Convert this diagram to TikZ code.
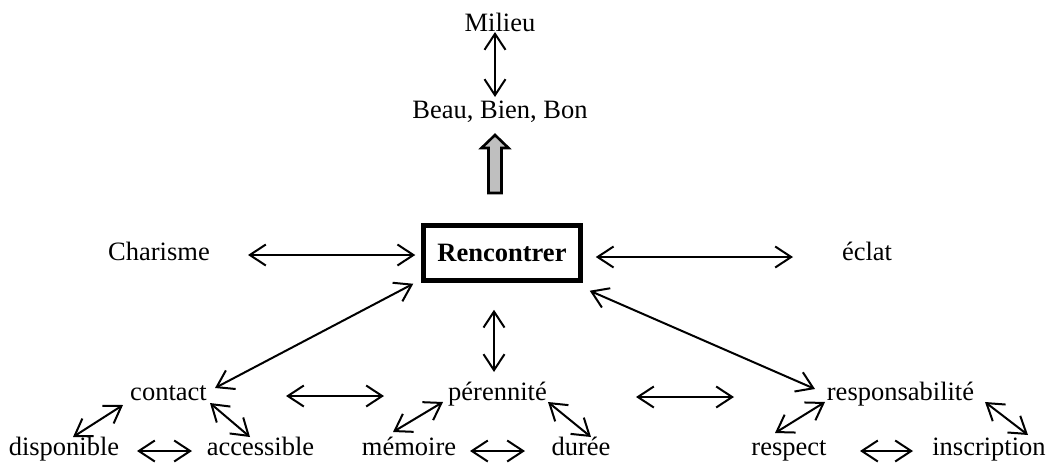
\documentclass[tikz,border=0pt]{standalone}
\usepackage{fontspec}
\setmainfont{Liberation Serif}
\usetikzlibrary{arrows.meta}
\begin{document}
\begin{tikzpicture}[x=1pt,y=-1pt,
  lbl/.style={inner sep=0pt,anchor=base,font=\fontsize{26.5}{30}\selectfont},
  link/.style={line width=2pt,{Straight Barb[length=16pt,width=21pt]}-{Straight Barb[length=16pt,width=21pt]}},
  hub/.style={draw,line width=5.5pt,minimum width=157pt,minimum height=55pt,inner sep=0pt,
    font=\fontsize{26.5}{30}\selectfont\bfseries},
  blockarrow/.style={draw,line width=2.6pt,fill=black!25,line join=miter}]
\useasboundingbox (0,0) rectangle (1051,463);

% words
\node[lbl] (milieu) at (500,31) {Milieu};
\node[lbl] (beau) at (500,118) {Beau, Bien, Bon};
\node[hub] (box) at (502,253) {Rencontrer};
\node[lbl] (charisme) at (159,260) {Charisme};
\node[lbl] (eclat) at (867,260) {éclat};
\node[lbl] (contact) at (168.5,400) {contact};
\node[lbl] (perennite) at (497.5,400) {pérennité};
\node[lbl] (resp) at (900.5,400) {responsabilité};
\node[lbl] (dispo) at (64,455) {disponible};
\node[lbl] (access) at (260.5,455) {accessible};
\node[lbl] (memoire) at (409,455) {mémoire};
\node[lbl] (duree) at (581,455) {durée};
\node[lbl] (respect) at (789,455) {respect};
\node[lbl] (inscr) at (989,455) {inscription};

% grey block arrow from the hub up to the values
\coordinate (ba) at ([shift={(-5,75)}]beau.base);
\draw[blockarrow] ([shift={(-6.5,0)}]ba) -- ([shift={(-6.5,-45)}]ba) -- ([shift={(-13.5,-45)}]ba)
  -- ([shift={(0,-58)}]ba) -- ([shift={(13.5,-45)}]ba) -- ([shift={(6.5,-45)}]ba)
  -- ([shift={(6.5,0)}]ba) -- cycle;

% connectors
\draw[link] ([shift={(-5,1)}]milieu.base) -- ([shift={(-5,-21)}]beau.base);
\draw[link] ([shift={(89,-5)}]charisme.base) -- ([shift={(-5.5,2)}]box.west);
\draw[link] ([shift={(12.5,4)}]box.east) -- ([shift={(-74,-3)}]eclat.base);
\draw[link] ([shift={(-8,26.5)}]box.south) -- ([shift={(-3.5,-28)}]perennite.base);
\draw[link] ([shift={(-7.5,0.5)}]box.south west) -- ([shift={(46.5,-12)}]contact.base);
\draw[link] ([shift={(6.5,7.5)}]box.south east) -- ([shift={(-85.5,-11)}]resp.base);
\draw[link] ([shift={(117.5,-4)}]contact.base) -- ([shift={(-113.5,-4)}]perennite.base);
\draw[link] ([shift={(138.5,-3)}]perennite.base) -- ([shift={(-166.5,-3)}]resp.base);

\draw[link] ([shift={(9,-18)}]dispo.base) -- ([shift={(-45.5,5)}]contact.base);
\draw[link] ([shift={(41.5,3)}]contact.base) -- ([shift={(-10.5,-18)}]access.base);
\draw[link] ([shift={(73,-4)}]dispo.base) -- ([shift={(-68.5,-4)}]access.base);

\draw[link] ([shift={(-16,-23)}]memoire.base) -- ([shift={(-54.5,2)}]perennite.base);
\draw[link] ([shift={(50.5,2)}]perennite.base) -- ([shift={(10,-18)}]duree.base);
\draw[link] ([shift={(61,-4)}]memoire.base) -- ([shift={(-56,-4)}]duree.base);

\draw[link] ([shift={(-14,-22)}]respect.base) -- ([shift={(-75.5,2)}]resp.base);
\draw[link] ([shift={(84.5,2)}]resp.base) -- ([shift={(39,-20)}]inscr.base);
\draw[link] ([shift={(71,-4)}]respect.base) -- ([shift={(-76,-4)}]inscr.base);
\end{tikzpicture}
\end{document}
